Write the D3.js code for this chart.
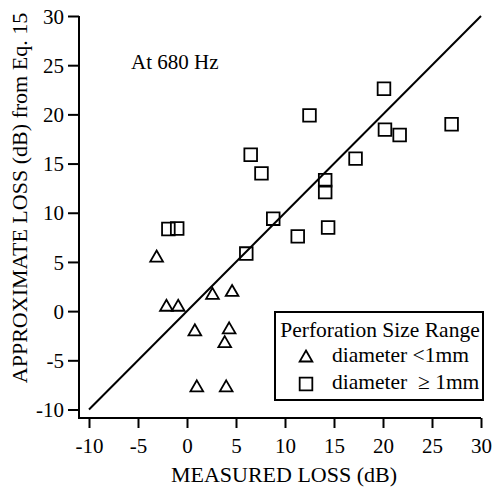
<!DOCTYPE html>
<html>
<head>
<meta charset="utf-8">
<script src="https://cdn.jsdelivr.net/npm/d3@7"></script>
<style>
  body { margin: 0; background: #fff; }
  svg { display: block; }
  text { font-family: "Liberation Serif", "Times New Roman", serif; fill: #000; white-space: pre; }
</style>
</head>
<body>
<svg id="chart" width="494" height="492"></svg>
<script>
// data (measured loss, approximate loss), dB
const smallMeasured = [-3.1, -2.1, -0.9, 0.8, 2.6, 4.6, 4.3, 3.85, 1.0, 4.0];
const smallApprox   = [5.6, 0.6, 0.6, -1.9, 1.8, 2.1, -1.7, -3.1, -7.6, -7.6];

const largeMeasured = [-1.9, -1.0, 6.05, 6.5, 7.6, 8.8, 11.3, 12.5, 14.1, 14.1, 14.4, 17.2, 20.1, 20.2, 21.7, 27.0];
const largeApprox   = [8.35, 8.4, 5.85, 15.9, 14.0, 9.4, 7.6, 19.9, 13.3, 12.1, 8.5, 15.5, 22.6, 18.45, 17.9, 19.0];

const xTicks = [-10, -5, 0, 5, 10, 15, 20, 25, 30];
const yTicks = [-10, -5, 0, 5, 10, 15, 20, 25, 30];

const legendTitle = "Perforation Size Range";
const legendLabels = ["diameter <1mm", "diameter  \u2265 1mm"];

const svg = d3.select("#chart");

const x = d3.scaleLinear().domain([-10, 30]).range([89, 481]);
const y = d3.scaleLinear().domain([-10, 30]).range([409.5, 16]);

const spineX = 79, spineY = 418;
const tickFont = 21;
const titleFont = 22;

// spines
svg.append("line")
  .attr("x1", spineX).attr("x2", spineX)
  .attr("y1", y(30)).attr("y2", spineY + 1)
  .attr("stroke", "#000").attr("stroke-width", 2);
svg.append("line")
  .attr("x1", spineX - 1).attr("x2", x(30))
  .attr("y1", spineY).attr("y2", spineY)
  .attr("stroke", "#000").attr("stroke-width", 2);

// axes
const xAxis = svg.append("g")
  .attr("transform", `translate(0, ${spineY})`)
  .call(d3.axisBottom(x).tickValues(xTicks).tickSize(10).tickPadding(10).tickFormat(d3.format("d")));
const yAxis = svg.append("g")
  .attr("transform", `translate(${spineX}, 0)`)
  .call(d3.axisLeft(y).tickValues(yTicks).tickSize(11).tickPadding(4).tickFormat(d3.format("d")));

[xAxis, yAxis].forEach(g => {
  g.select(".domain").remove();
  g.selectAll(".tick line").attr("stroke", "#000").attr("stroke-width", 2);
  g.selectAll(".tick text")
    .attr("font-family", '"Liberation Serif", "Times New Roman", serif')
    .attr("font-size", tickFont)
    .attr("fill", "#000")
    .text(d => d < 0 ? "-" + Math.abs(d) : d);
});
yAxis.selectAll(".tick text").attr("dy", "0.34em");

// 1:1 line
svg.append("line")
  .attr("x1", x(-10)).attr("y1", y(-10))
  .attr("x2", x(30)).attr("y2", y(30))
  .attr("stroke", "#000").attr("stroke-width", 2);

// markers
const square = d3.symbol(d3.symbolSquare, 160);
const triSize = 70;
const triangle = d3.symbol(d3.symbolTriangle, triSize);
// shift so the triangle's bounding box is centred on the point
const triShift = Math.sqrt(triSize / (Math.sqrt(3) * 3)) / 2;

const small = smallMeasured.map((m, i) => ({m, a: smallApprox[i]}));
const large = largeMeasured.map((m, i) => ({m, a: largeApprox[i]}));

svg.append("g").selectAll("path")
  .data(large)
  .join("path")
  .attr("d", square)
  .attr("transform", d => `translate(${x(d.m)}, ${y(d.a)})`)
  .attr("fill", "none").attr("stroke", "#000").attr("stroke-width", 1.8);

svg.append("g").selectAll("path")
  .data(small)
  .join("path")
  .attr("d", triangle)
  .attr("transform", d => `translate(${x(d.m)}, ${y(d.a) + triShift})`)
  .attr("fill", "none").attr("stroke", "#000").attr("stroke-width", 1.8);

// annotation
svg.append("text")
  .attr("x", 131).attr("y", 69)
  .attr("font-size", tickFont)
  .text("At 680 Hz");

// axis titles
svg.append("text")
  .attr("x", 284).attr("y", 482)
  .attr("text-anchor", "middle")
  .attr("font-size", titleFont)
  .text("MEASURED LOSS (dB)");
svg.append("text")
  .attr("transform", "translate(27, 198) rotate(-90)")
  .attr("text-anchor", "middle")
  .attr("font-size", titleFont)
  .text("APPROXIMATE LOSS (dB) from Eq. 15");

// legend
const legend = svg.append("g");
legend.append("rect")
  .attr("x", 275).attr("y", 312)
  .attr("width", 208).attr("height", 88)
  .attr("fill", "#fff").attr("stroke", "#000").attr("stroke-width", 2);
legend.append("text")
  .attr("x", 380).attr("y", 337)
  .attr("text-anchor", "middle")
  .attr("font-size", 21.5)
  .text(legendTitle);
legend.append("path")
  .attr("d", triangle)
  .attr("transform", `translate(306, ${356 + triShift})`)
  .attr("fill", "none").attr("stroke", "#000").attr("stroke-width", 1.8);
legend.append("path")
  .attr("d", square)
  .attr("transform", "translate(306, 384)")
  .attr("fill", "none").attr("stroke", "#000").attr("stroke-width", 1.8);
legend.selectAll("text.item")
  .data(legendLabels)
  .join("text")
  .attr("class", "item")
  .attr("x", 332)
  .attr("y", (d, i) => 362 + i * 27)
  .attr("font-size", 21.5)
  .text(d => d);
</script>
</body>
</html>
